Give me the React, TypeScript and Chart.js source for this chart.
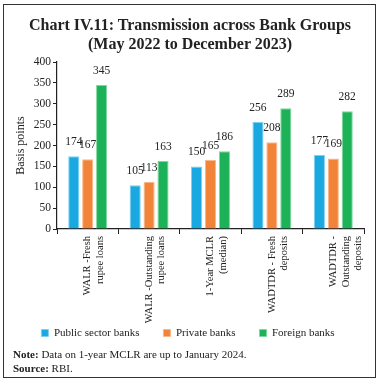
import React, { useEffect, useRef } from "react";
import { Chart, registerables } from "chart.js";

Chart.register(...registerables);

const categories: string[][] = [
  ["WALR -Fresh", "rupee loans"],
  ["WALR -Outstanding", "rupee loans"],
  ["1-Year MCLR", "(median)"],
  ["WADTDR - Fresh", "deposits"],
  ["WADTDR -", "Outstanding", "deposits"],
];
const publicSector = [174, 105, 150, 256, 177];
const privateBanks = [167, 113, 165, 208, 169];
const foreignBanks = [345, 163, 186, 289, 282];
const seriesNames = ["Public sector banks", "Private banks", "Foreign banks"];
const yTicks = { min: 0, max: 400, step: 50 };

const SERIF = "'Liberation Serif', 'DejaVu Serif', serif";

const valueLabels = {
  id: "valueLabels",
  afterDatasetsDraw(chart: any) {
    const ctx = chart.ctx;
    ctx.save();
    ctx.font = `11.5px ${SERIF}`;
    ctx.fillStyle = "#222";
    ctx.textAlign = "center";
    ctx.textBaseline = "middle";
    chart.data.datasets.forEach((ds: any, i: number) => {
      const meta = chart.getDatasetMeta(i);
      meta.data.forEach((bar: any, j: number) => {
        ctx.fillText(String(ds.data[j]), bar.x, bar.y - 14);
      });
    });
    ctx.restore();
  },
};

// let the rotated category labels run past the (short) x-axis box into the legend gap
const widenLabelClip = {
  id: "widenLabelClip",
  afterLayout(chart: any) {
    const x = chart.scales.x;
    x.bottom = x.top + 100;
  },
};

export default function App() {
  const ref = useRef<HTMLCanvasElement>(null);
  useEffect(() => {
    document.body.style.margin = "0";
    const chart = new Chart(ref.current!, {
      type: "bar",
      data: {
        labels: categories,
        datasets: [
          { label: seriesNames[0], data: publicSector, backgroundColor: "#19a8e0", borderColor: "#7fd0f0", borderWidth: 1 },
          { label: seriesNames[1], data: privateBanks, backgroundColor: "#f2843a", borderColor: "#f8b88a", borderWidth: 1 },
          { label: seriesNames[2], data: foreignBanks, backgroundColor: "#1db257", borderColor: "#7fd8a0", borderWidth: 1 },
        ],
      },
      options: {
        animation: false,
        responsive: false,
        maintainAspectRatio: false,
        devicePixelRatio: 1,
        datasets: { bar: { categoryPercentage: 0.68, barPercentage: 0.8 } },
        layout: { padding: { top: 62, left: 12, right: 16, bottom: 35.5 } },
        plugins: {
          title: { display: false },
          tooltip: { enabled: false },
          legend: {
            position: "bottom",
            labels: {
              boxWidth: 7,
              boxHeight: 7,
              padding: 24,
              color: "#222",
              font: { family: SERIF, size: 11 },
            },
          },
        },
        scales: {
          x: {
            afterFit: (s: any) => { s.height = 74.5; },
            grid: { drawOnChartArea: false, drawTicks: true, tickLength: 5, color: "#222", offset: true },
            border: { display: true, color: "#222", width: 1.2 },
            ticks: {
              minRotation: 90,
              maxRotation: 90,
              autoSkip: false,
              padding: 2,
              color: "#222",
              font: { family: SERIF, size: 10.5 },
            },
          },
          y: {
            min: yTicks.min,
            max: yTicks.max,
            afterFit: (s: any) => { s.width = 45; },
            grid: { drawOnChartArea: false, drawTicks: true, tickLength: 4, color: "#222" },
            border: { display: true, color: "#222", width: 1.2 },
            ticks: { stepSize: yTicks.step, autoSkip: false, padding: 2, color: "#222", font: { family: SERIF, size: 11.5 } },
            title: { display: true, text: "Basis points", color: "#222", font: { family: SERIF, size: 12 }, padding: 2 },
          },
        },
      },
      plugins: [valueLabels, widenLabelClip],
    });
    return () => chart.destroy();
  }, []);

  return (
    <div style={{ position: "relative", width: 380, height: 384, background: "#fff", fontFamily: SERIF, color: "#222" }}>
      <canvas ref={ref} width={380} height={384} style={{ position: "absolute", left: 0, top: 0, width: 380, height: 384 }} />
      <div style={{ position: "absolute", left: 3, top: 4, width: 371, height: 372, border: "1.5px solid #333", pointerEvents: "none" }} />
      <div style={{ position: "absolute", left: 0, top: 15, width: 380, textAlign: "center", fontSize: 16, fontWeight: "bold", lineHeight: "19px" }}>
        <div>Chart IV.11: Transmission across Bank Groups</div>
        <div>(May 2022 to December 2023)</div>
      </div>
      <div style={{ position: "absolute", left: 13, top: 347, fontSize: 11, lineHeight: "14px" }}>
        <div><b>Note:</b> Data on 1-year MCLR are up to January 2024.</div>
        <div><b>Source:</b> RBI.</div>
      </div>
    </div>
  );
}
